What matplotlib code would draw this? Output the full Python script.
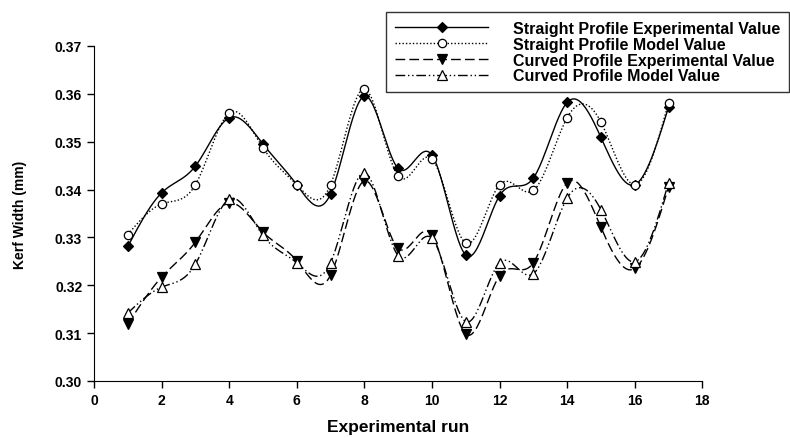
import matplotlib
matplotlib.use('Agg')
import matplotlib.pyplot as plt
import numpy as np

plt.rcParams['font.family'] = ['Liberation Sans', 'DejaVu Sans']
plt.rcParams['font.weight'] = 'bold'

runs = np.arange(1, 18)
straight_exp = [0.3281, 0.3393, 0.3449, 0.3550, 0.3495, 0.3410, 0.3391, 0.3595, 0.3444,
                0.3472, 0.3263, 0.3387, 0.3424, 0.3582, 0.3509, 0.3410, 0.3572]
straight_mod = [0.3306, 0.3370, 0.3410, 0.3560, 0.3487, 0.3410, 0.3410, 0.3610, 0.3428,
                0.3464, 0.3288, 0.3410, 0.3398, 0.3550, 0.3541, 0.3410, 0.3581]
curved_exp = [0.3119, 0.3217, 0.3290, 0.3372, 0.3311, 0.3251, 0.3221, 0.3418, 0.3277,
              0.3305, 0.3098, 0.3220, 0.3247, 0.3414, 0.3321, 0.3235, 0.3405]
curved_mod = [0.3142, 0.3196, 0.3244, 0.3380, 0.3304, 0.3247, 0.3247, 0.3435, 0.3262,
              0.3298, 0.3124, 0.3247, 0.3224, 0.3382, 0.3358, 0.3249, 0.3414]

labels = ['Straight Profile Experimental Value', 'Straight Profile Model Value',
          'Curved Profile Experimental Value', 'Curved Profile Model Value']


def spline(x, y, n=400):
    # natural cubic spline, just for drawing the smooth line
    x = np.asarray(x, float)
    y = np.asarray(y, float)
    h = np.diff(x)
    m = len(x)
    A = np.zeros((m, m))
    b = np.zeros(m)
    A[0, 0] = A[-1, -1] = 1
    for i in range(1, m - 1):
        A[i, i - 1] = h[i - 1]
        A[i, i] = 2 * (h[i - 1] + h[i])
        A[i, i + 1] = h[i]
        b[i] = 6 * ((y[i + 1] - y[i]) / h[i] - (y[i] - y[i - 1]) / h[i - 1])
    M = np.linalg.solve(A, b)
    xs = np.linspace(x[0], x[-1], n)
    idx = np.clip(np.searchsorted(x, xs) - 1, 0, m - 2)
    x0, x1 = x[idx], x[idx + 1]
    hh = x1 - x0
    t0 = x1 - xs
    t1 = xs - x0
    ys = (M[idx] * t0 ** 3 + M[idx + 1] * t1 ** 3) / (6 * hh) \
        + (y[idx] / hh - M[idx] * hh / 6) * t0 + (y[idx + 1] / hh - M[idx + 1] * hh / 6) * t1
    return xs, ys


fig = plt.figure(figsize=(7.9, 4.39), dpi=100)
ax = fig.add_axes([0.119, 0.130, 0.770, 0.763])

series = [
    (straight_exp, '-', 'D', 'black', 5),
    (straight_mod, (0, (1, 1.5)), 'o', 'white', 6),
    (curved_exp, (0, (7, 3)), 'v', 'black', 7),
    (curved_mod, (0, (7, 2, 1, 2, 1, 2)), '^', 'white', 7),
]
handles = []
for (vals, ls, mk, fc, ms), lab in zip(series, labels):
    xs, ys = spline(runs, vals)
    ax.plot(xs, ys, color='black', lw=1, ls=ls)
    ax.plot(runs, vals, ls='none', marker=mk, mfc=fc, mec='black', ms=ms, mew=0.9)
    handles.append(plt.Line2D([], [], color='black', lw=1, ls=ls, marker=mk,
                              mfc=fc, mec='black', ms=ms, mew=0.9))

ax.set_xlim(0, 18)
ax.set_ylim(0.30, 0.37)
ax.set_xticks(np.arange(0, 19, 2))
ax.set_yticks(np.arange(0.30, 0.3701, 0.01))
ax.yaxis.set_major_formatter(matplotlib.ticker.FormatStrFormatter('%.2f'))
ax.spines['top'].set_visible(False)
ax.spines['right'].set_visible(False)
ax.tick_params(direction='out', length=5, width=1, labelsize=10)
for t in ax.get_xticklabels() + ax.get_yticklabels():
    t.set_fontweight('bold')
ax.set_xlabel('Experimental run', fontsize=12.5, fontweight='bold', labelpad=9)
ax.set_ylabel('Kerf Width (mm)', fontsize=10, fontweight='bold', labelpad=20)

leg = fig.legend(handles, labels, loc='upper left', bbox_to_anchor=(0.479, 0.988),
                 frameon=True, fancybox=False, edgecolor='black', fontsize=11.5,
                 handlelength=5.8, borderpad=0.55, labelspacing=0.05, handletextpad=1.6)
leg.get_frame().set_linewidth(1)
for t in leg.get_texts():
    t.set_fontweight('bold')

fig.savefig('out.png', dpi=100)
